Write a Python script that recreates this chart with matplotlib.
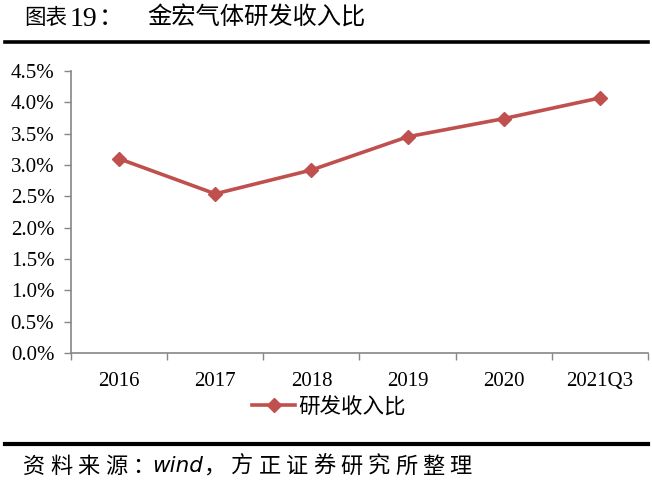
import matplotlib
matplotlib.use("Agg")
import matplotlib.pyplot as plt
from matplotlib.lines import Line2D

plt.rcParams['font.family'] = ['Liberation Serif', 'Noto Sans CJK SC', 'DejaVu Sans']

# data
years = ['2016', '2017', '2018', '2019', '2020', '2021Q3']
rd_ratio = [3.10, 2.54, 2.92, 3.45, 3.74, 4.07]   # percent
yticks = [0.0, 0.5, 1.0, 1.5, 2.0, 2.5, 3.0, 3.5, 4.0, 4.5]

title_parts = ['图表', '19', '：']
title_body = '金宏气体研发收入比'
series_name = '研发收入比'
source_head = '资料来源：'
source_wind = 'wind'
source_tail = '，方正证券研究所整理'

red = '#C0504D'
grey = '#868686'

fig = plt.figure(figsize=(6.52, 4.86), dpi=100)
W, H = 652, 486


def px(x, y):
    return x / W, 1 - y / H


# axes: x 71..648, y 71..353 (pixels)
ax = fig.add_axes([71 / W, 1 - 353 / H, (648 - 71) / W, (353 - 71) / H])

x = range(len(years))
ax.plot(x, rd_ratio, color=red, lw=2.6, marker='D', ms=7.5, mfc=red, mec=red)

ax.set_xlim(-0.5, len(years) - 0.5)
ax.set_ylim(0, 4.5)
ax.set_yticks(yticks)
ax.set_yticklabels([f'{v:.1f}%' for v in yticks], fontsize=15)
ax.set_xticks([i - 0.5 for i in range(len(years) + 1)])
ax.set_xticklabels([])
ax.set_xticks(list(x), minor=True)
ax.set_xticklabels(years, minor=True, fontsize=15)
ax.tick_params(axis='x', which='minor', length=0, pad=14)
ax.tick_params(axis='x', which='major', length=5, color=grey, width=1)
ax.tick_params(axis='y', length=5, color=grey, width=1, pad=7)

for side in ['top', 'right']:
    ax.spines[side].set_visible(False)
for side in ['left', 'bottom']:
    ax.spines[side].set_color(grey)
    ax.spines[side].set_linewidth(1.2)

handle = Line2D([], [], color=red, lw=2.6, marker='D', ms=7.5)
fig.legend([handle], [series_name], loc='center', bbox_to_anchor=px(329, 407),
           frameon=False, handlelength=2.0, handletextpad=0.15,
           prop={'family': ['Noto Sans CJK SC'], 'size': 15.5})

# title and rules
fig.text(*px(24, 18), title_parts[0], fontsize=15.5, va='center', ha='left',
         family=['Noto Sans CJK SC'])
fig.text(*px(70, 19), title_parts[1], fontsize=20, va='center', ha='left',
         family=['Liberation Serif'])
fig.text(*px(99, 18), title_parts[2], fontsize=17.5, va='center', ha='left',
         family=['Noto Sans CJK SC'])
fig.text(*px(147, 18), title_body, fontsize=17.5, va='center', ha='left',
         family=['Noto Sans CJK SC'])
fig.add_artist(Line2D([5 / W, 648 / W], [1 - 42 / H, 1 - 42 / H], color='black', lw=2.6))
fig.add_artist(Line2D([5 / W, 648 / W], [1 - 444 / H, 1 - 444 / H], color='black', lw=3))

# source line, spread out like the original
pitch = 27.3
for i, ch in enumerate(source_head):
    fig.text(*px(23 + i * pitch, 466), ch, fontsize=16, va='center', ha='left',
             family=['Noto Sans CJK SC'])
fig.text(*px(152, 466), source_wind, fontsize=15.5, va='center', ha='left',
         style='italic', family=['DejaVu Sans'])
for i, ch in enumerate(source_tail):
    fig.text(*px(204 + i * pitch, 466), ch, fontsize=16, va='center', ha='left',
             family=['Noto Sans CJK SC'])

fig.savefig('out.png', dpi=100)
